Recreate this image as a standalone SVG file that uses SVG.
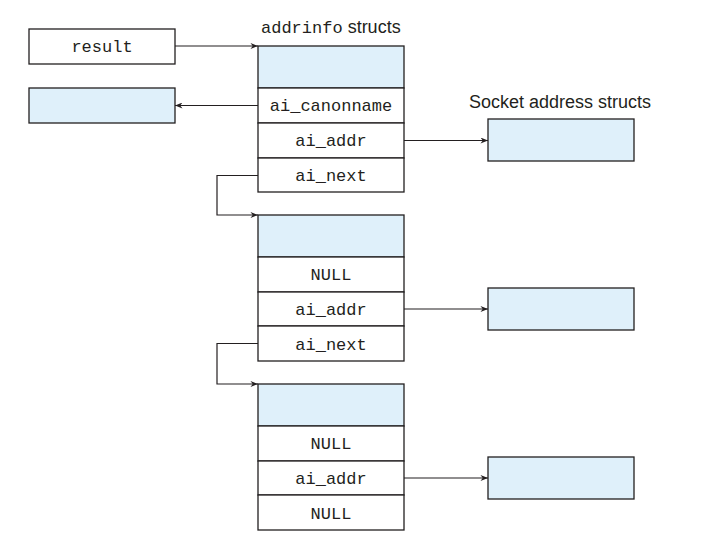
<svg xmlns="http://www.w3.org/2000/svg" width="711" height="558" viewBox="0 0 711 558">
<style>
.box{fill:#fff;stroke:#231f20;stroke-width:1.3}
.blue{fill:#dff0fa;stroke:#231f20;stroke-width:1.3}
.mono{font-family:"Liberation Mono","DejaVu Sans Mono",monospace;font-size:17px;fill:#231f20;text-anchor:middle}
.sans{font-family:"Liberation Sans",Arial,sans-serif;font-size:18px;fill:#231f20}
.conn{fill:none;stroke:#231f20;stroke-width:1.2;marker-end:url(#ah)}
</style>
<defs>
<marker id="ah" viewBox="0 0 10 8" refX="10" refY="4" markerWidth="8" markerHeight="6" markerUnits="userSpaceOnUse" orient="auto">
<path d="M0,0 L10,4 L0,8 L3,4 Z" fill="#231f20"/>
</marker>
</defs>
<rect width="711" height="558" fill="#fff"/>
<text class="mono" x="302" y="33" style="text-anchor:start" transform="translate(-41,0)">addrinfo<tspan class="sans" dx="5" style="font-family:'Liberation Sans',Arial,sans-serif;font-size:18px">structs</tspan></text>
<text class="sans" x="469" y="108">Socket address structs</text>
<g id="result">
<rect class="box" x="29" y="29" width="146" height="35"/>
<text class="mono" x="102" y="52">result</text>
</g>
<g id="canonname">
<rect class="blue" x="29" y="88" width="146" height="35"/>
</g>
<g id="addrinfo1">
<rect class="blue" x="258" y="46" width="146" height="42"/>
<rect class="box" x="258" y="88" width="146" height="35"/>
<rect class="box" x="258" y="123" width="146" height="35"/>
<rect class="box" x="258" y="158" width="146" height="34"/>
<text class="mono" x="331" y="111">ai_canonname</text>
<text class="mono" x="331" y="146">ai_addr</text>
<text class="mono" x="331" y="181">ai_next</text>
</g>
<g id="addrinfo2">
<rect class="blue" x="258" y="215" width="146" height="42"/>
<rect class="box" x="258" y="257" width="146" height="35"/>
<rect class="box" x="258" y="292" width="146" height="34"/>
<rect class="box" x="258" y="326" width="146" height="35"/>
<text class="mono" x="331" y="280">NULL</text>
<text class="mono" x="331" y="315">ai_addr</text>
<text class="mono" x="331" y="350">ai_next</text>
</g>
<g id="addrinfo3">
<rect class="blue" x="258" y="384" width="146" height="42"/>
<rect class="box" x="258" y="426" width="146" height="35"/>
<rect class="box" x="258" y="461" width="146" height="34"/>
<rect class="box" x="258" y="495" width="146" height="35"/>
<text class="mono" x="331" y="449">NULL</text>
<text class="mono" x="331" y="484">ai_addr</text>
<text class="mono" x="331" y="519">NULL</text>
</g>
<g id="sock1"><rect class="blue" x="488" y="119" width="146" height="42"/></g>
<g id="sock2"><rect class="blue" x="488" y="288" width="146" height="42"/></g>
<g id="sock3"><rect class="blue" x="488" y="457" width="146" height="42"/></g>
<g id="connectors">
<path class="conn" d="M175,46 H258"/>
<path class="conn" d="M258,105.5 H175"/>
<path class="conn" d="M404,140.5 H488"/>
<path class="conn" d="M258,175.5 H217 V215 H258"/>
<path class="conn" d="M404,309 H488"/>
<path class="conn" d="M258,343.5 H217 V384 H258"/>
<path class="conn" d="M404,478 H488"/>
</g>
</svg>
